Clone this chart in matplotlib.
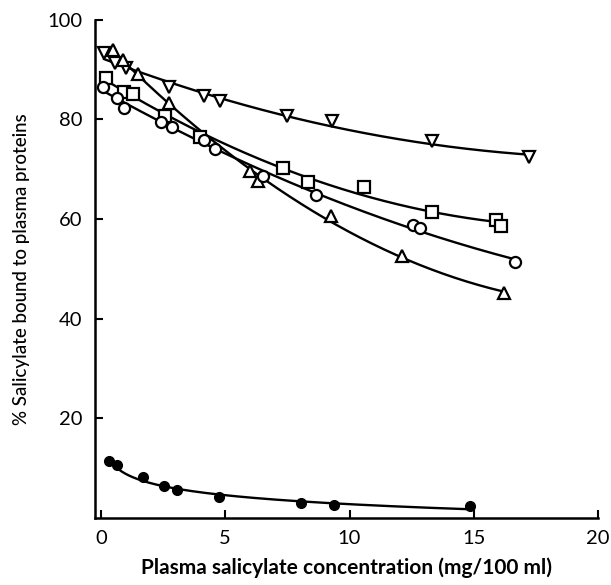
import numpy as np
import matplotlib.pyplot as plt

plt.rcParams['font.family'] = ['Lato', 'DejaVu Sans']

# values
tri_down_x = [0.13, 0.57, 1.0, 2.73, 4.13, 4.8, 7.5, 9.3, 13.3, 17.2]
tri_down_y = [93.3, 91.3, 90.4, 86.6, 84.7, 83.7, 80.6, 79.6, 75.6, 72.4]

tri_up_x = [0.47, 0.87, 1.5, 2.73, 6.0, 6.33, 9.26, 12.1, 16.2]
tri_up_y = [93.9, 91.9, 89.1, 83.3, 69.6, 67.6, 60.6, 52.6, 45.1]

square_x = [0.2, 0.93, 1.29, 2.57, 4.0, 7.33, 8.33, 10.6, 13.3, 15.9, 16.1]
square_y = [88.4, 85.6, 85.1, 80.6, 76.4, 70.3, 67.5, 66.4, 61.4, 59.8, 58.5]

circle_x = [0.09, 0.66, 0.93, 2.4, 2.86, 4.13, 4.6, 6.53, 8.66, 12.56, 12.84, 16.66]
circle_y = [86.6, 84.3, 82.3, 79.5, 78.4, 75.9, 74.1, 68.6, 64.9, 58.8, 58.1, 51.3]

filled_x = [0.33, 0.66, 1.69, 2.53, 3.06, 4.73, 8.06, 9.37, 14.86]
filled_y = [11.3, 10.5, 8.1, 6.4, 5.5, 4.1, 2.9, 2.6, 2.4]

fig = plt.figure(figsize=(6.11, 5.85), dpi=100)
ax = fig.add_axes([0.155, 0.115, 0.824, 0.851])

def fit_curve(x, y, deg=2, logx=False):
    x = np.array(x)
    y = np.array(y)
    xs = np.linspace(x.min(), x.max(), 200)
    if logx:
        p = np.polyfit(np.log(x), y, deg)
        return xs, np.polyval(p, np.log(xs))
    p = np.polyfit(x, y, deg)
    return xs, np.polyval(p, xs)

series = [
    (tri_down_x, tri_down_y, 'v'),
    (tri_up_x, tri_up_y, '^'),
    (square_x, square_y, 's'),
    (circle_x, circle_y, 'o'),
]
for x, y, m in series:
    xs, ys = fit_curve(x, y, 2)
    ax.plot(xs, ys, color='black', lw=1.7, zorder=2)
    ax.plot(x, y, linestyle='none', marker=m, ms=8, mfc='white',
            mec='black', mew=1.6, zorder=3)

xs, ys = fit_curve(filled_x, filled_y, 2, logx=True)
ax.plot(xs, ys, color='black', lw=1.7, zorder=2)
ax.plot(filled_x, filled_y, linestyle='none', marker='o', ms=7,
        color='black', zorder=3)

ax.set_xlim(-0.25, 20)
ax.set_ylim(0, 100)
ax.set_xticks([0, 5, 10, 15, 20])
ax.set_yticks([20, 40, 60, 80, 100])
ax.tick_params(direction='in', length=6, width=1.5, labelsize=14.5)
ax.tick_params(axis='x', pad=9)
ax.tick_params(axis='y', pad=9)

for s in ['top', 'right']:
    ax.spines[s].set_visible(False)
for s in ['left', 'bottom']:
    ax.spines[s].set_linewidth(1.8)

ax.set_xlabel('Plasma salicylate concentration (mg/100 ml)', fontsize=15,
              fontweight='bold', labelpad=7)
ax.set_ylabel('% Salicylate bound to plasma proteins', fontsize=13.5,
              fontweight='medium', labelpad=12)

plt.savefig('out.png', dpi=100)
